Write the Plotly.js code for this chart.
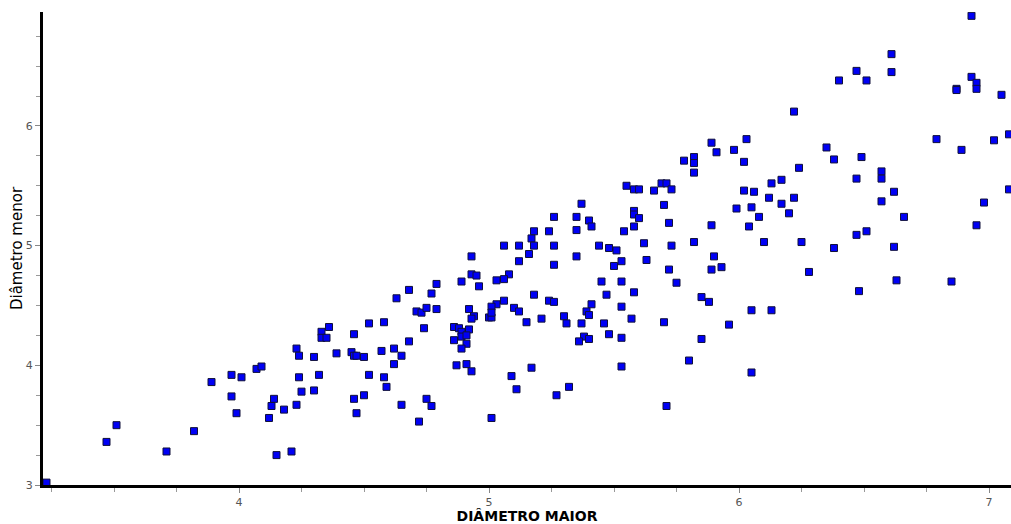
<!DOCTYPE html>
<html>
<head>
<meta charset="utf-8">
<script src="https://cdn.plot.ly/plotly-3.0.1.min.js"></script>
<style>html,body{margin:0;padding:0;background:#fff;}#chart{width:1011px;height:524px;}</style>
</head>
<body>
<div id="chart"></div>
<script>
// Diâmetro maior (x) values
const diametroMaior = [
  3.23,3.51,3.47,3.71,3.82,3.89,3.97,4.01,4.07,4.09,3.97,3.99,4.14,4.13,4.18,4.12,4.15,4.21,
  5.06,5.12,4.93,5.12,4.93,4.95,4.96,4.89,4.79,5.08,5.03,5.06,4.68,4.77,4.63,4.71,4.73,4.75,4.79,4.92,4.94,4.93,
  5.03,5.01,5.06,5.10,5.12,5.00,5.01,5.01,4.74,4.58,4.52,4.36,4.33,4.33,4.35,4.46,4.68,4.86,4.88,4.89,
  4.92,4.86,4.89,4.91,4.91,4.89,4.23,4.24,4.30,4.39,4.45,4.46,4.47,4.50,4.57,4.62,4.65,4.62,4.87,4.91,
  4.93,4.24,4.32,4.52,4.58,4.59,4.25,4.30,4.46,4.50,4.23,4.47,4.65,4.75,4.77,4.72,5.01,5.09,5.11,
  5.89,6.03,5.91,5.98,6.02,5.78,5.82,5.82,5.82,5.55,5.58,5.60,5.66,5.69,5.71,5.73,5.37,5.70,6.02,6.06,
  5.99,6.05,6.08,6.04,5.26,5.35,5.40,5.41,5.58,5.58,5.60,5.58,5.72,5.89,5.18,5.24,5.35,5.54,5.17,5.18,
  5.26,5.44,5.48,5.51,5.62,5.73,5.82,6.10,5.16,5.26,5.35,5.50,5.53,5.63,5.90,5.93,5.89,5.72,
  5.45,5.53,5.75,5.18,5.47,5.58,5.85,5.88,5.24,5.26,5.41,5.39,5.40,5.53,
  5.15,5.21,5.30,5.31,5.37,5.46,5.57,5.70,6.05,5.96,5.38,5.36,5.40,5.48,5.53,5.85,5.80,6.05,5.17,5.53,
  5.32,5.27,5.71,
  6.93,6.61,6.61,6.47,6.40,6.51,6.87,6.87,6.93,6.95,6.95,7.05,6.22,6.35,6.38,6.49,6.24,6.79,6.89,7.02,
  7.08,6.47,6.57,6.57,6.62,6.57,6.66,7.08,6.98,6.95,6.17,6.13,6.22,6.17,6.20,6.12,6.25,6.38,6.47,6.51,
  6.62,6.63,6.85,6.48,6.28,6.13
];
// Diâmetro menor (y) values, same order
const diametroMenor = [
  3.02,3.50,3.36,3.28,3.45,3.86,3.92,3.90,3.97,3.99,3.74,3.60,3.72,3.66,3.63,3.56,3.25,3.28,
  5.00,5.00,4.91,4.87,4.76,4.75,4.66,4.70,4.68,4.76,4.71,4.72,4.63,4.60,4.56,4.45,4.44,4.48,4.47,4.47,4.41,4.39,
  4.51,4.49,4.54,4.48,4.45,4.40,4.40,4.44,4.31,4.36,4.35,4.32,4.28,4.23,4.23,4.26,4.20,4.32,4.31,4.28,
  4.30,4.21,4.24,4.25,4.18,4.14,4.14,4.08,4.07,4.10,4.11,4.08,4.08,4.07,4.12,4.14,4.08,4.01,4.00,4.01,
  3.95,3.90,3.92,3.92,3.90,3.82,3.78,3.79,3.72,3.75,3.67,3.60,3.67,3.72,3.66,3.53,3.56,3.91,3.80,
  5.86,5.89,5.78,5.80,5.70,5.71,5.74,5.69,5.61,5.50,5.47,5.47,5.46,5.52,5.52,5.47,5.35,5.34,5.46,5.45,
  5.31,5.32,5.24,5.16,5.24,5.24,5.21,5.16,5.29,5.26,5.23,5.16,5.19,5.17,5.12,5.12,5.13,5.12,5.06,5.00,
  5.00,5.00,4.98,4.96,5.02,5.00,5.03,5.03,4.93,4.84,4.91,4.83,4.87,4.88,4.91,4.82,4.80,4.80,
  4.70,4.70,4.69,4.59,4.59,4.61,4.57,4.53,4.54,4.53,4.51,4.45,4.42,4.49,
  4.36,4.39,4.41,4.35,4.35,4.35,4.39,4.36,4.46,4.34,4.24,4.20,4.22,4.26,4.23,4.22,4.04,3.94,3.98,3.99,
  3.82,3.75,3.66,
  6.92,6.60,6.45,6.46,6.38,6.38,6.31,6.30,6.41,6.36,6.31,6.26,6.12,5.82,5.72,5.74,5.65,5.89,5.80,5.88,
  5.93,5.56,5.62,5.56,5.45,5.37,5.24,5.47,5.36,5.17,5.55,5.52,5.40,5.35,5.27,5.40,5.03,4.98,5.09,5.12,
  4.99,4.71,4.70,4.62,4.78,4.46
];
const xTickVals = [4,5,6,7];
const yTickVals = [3,4,5,6];
const xTitle = 'DIÂMETRO MAIOR';
const yTitle = 'Diâmetro menor';

const trace = {
  x: diametroMaior,
  y: diametroMenor,
  type: 'scatter',
  mode: 'markers',
  marker: {symbol: 'square', size: 7, color: '#0000f5', line: {color: '#10103a', width: 1}},
  hoverinfo: 'skip'
};

const tickFont = {family: 'DejaVu Sans', size: 11, color: '#555'};
const layout = {
  width: 1011, height: 524,
  margin: {l: 43, r: 0, t: 12, b: 39, pad: 0},
  paper_bgcolor: '#fff', plot_bgcolor: '#fff',
  showlegend: false,
  xaxis: {
    range: [3.216, 7.088], autorange: false,
    tickvals: xTickVals, ticktext: xTickVals.map(String),
    showline: true, linecolor: '#000', linewidth: 3,
    ticks: 'outside', ticklen: 5, tickwidth: 1, tickcolor: '#888',
    minor: {dtick: 0.25, tick0: 0, ticks: 'outside', ticklen: 4, tickwidth: 1, tickcolor: '#999', showgrid: false},
    showgrid: false, zeroline: false, automargin: false,
    tickfont: tickFont,
    title: {text: '<b>' + xTitle + '</b>', font: {family: 'DejaVu Sans', size: 14, color: '#000'}, standoff: 6}
  },
  yaxis: {
    range: [3.0, 6.952], autorange: false,
    tickvals: yTickVals, ticktext: yTickVals.map(String),
    showline: true, linecolor: '#000', linewidth: 3,
    ticks: 'outside', ticklen: 5, tickwidth: 1, tickcolor: '#888',
    minor: {dtick: 0.25, tick0: 0, ticks: 'outside', ticklen: 4, tickwidth: 1, tickcolor: '#999', showgrid: false},
    showgrid: false, zeroline: false, automargin: false,
    tickfont: tickFont,
    title: {text: yTitle, font: {family: 'DejaVu Sans', size: 15, color: '#000'}, standoff: 0}
  }
};

Plotly.newPlot('chart', [trace], layout, {staticPlot: true, displayModeBar: false});
</script>
</body>
</html>
